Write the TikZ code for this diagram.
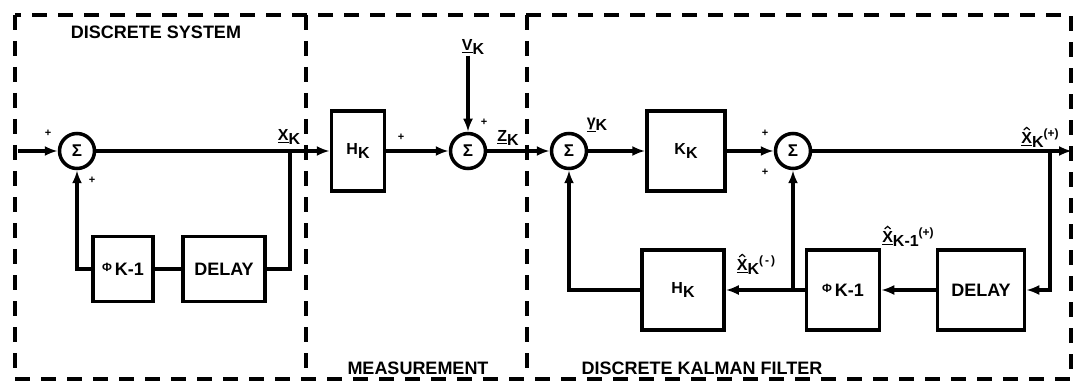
\documentclass[tikz,border=0pt]{standalone}
\usepackage{fontspec}
\setmainfont{Liberation Sans}
\usetikzlibrary{arrows.meta}
\newcommand{\lowerit}[1]{\raisebox{-0.45ex}{#1}}
\newcommand{\raiseit}[1]{\raisebox{0.7ex}{\fontsize{12}{12}\selectfont #1}}
\newcommand{\hatmark}{\tikz\draw[line width=1.2pt,line cap=round] (0pt,0pt) -- (2.8pt,2.4pt) -- (5.6pt,0pt);}
\newcommand{\xvec}{\underline{X}}
\newcommand{\xest}{\underline{\ooalign{X\cr\hidewidth\raisebox{13pt}{\hatmark}\hidewidth\cr}}}
\begin{document}
\begin{tikzpicture}[x=1pt,y=-1pt,
	font=\bfseries\fontsize{18}{20}\selectfont,
	blk/.style={draw,line width=3.5pt,inner sep=0pt},
	sum/.style={circle,draw,line width=3.5pt,minimum size=35pt,inner sep=0pt,font=\bfseries\fontsize{17}{17}\selectfont},
	lbl/.style={font=\bfseries\fontsize{16}{18}\selectfont,inner sep=1pt},
	pl/.style={font=\bfseries\fontsize{11}{11}\selectfont,inner sep=1pt},
	sig/.style={line width=3.5pt},
	arr/.style={line width=3.5pt,-{Latex[length=13pt,width=10pt]}},
	frame/.style={line width=3.5pt,dash pattern=on 15pt off 11pt}]
	\useasboundingbox (0,0) rectangle (1074,385);
	% dashed frames
	\draw[frame] (15,15) rectangle (1071,379);
	\draw[frame] (306,15) -- (306,379);
	\draw[frame] (527,15) -- (527,379);
	\node (tsys) at (156,32) {DISCRETE SYSTEM};
	\node (tmeas) at (418,368) {MEASUREMENT};
	\node (tkal) at (702,368) {DISCRETE KALMAN FILTER};
	% discrete system
	\node[sum] (s1) at (77,151) {Σ};
	\node[blk,minimum width=60pt,minimum height=65pt] (phi1) at (123,269) {{\fontsize{12}{12}\selectfont Φ}\,\lowerit{K-1}};
	\node[blk,minimum width=82pt,minimum height=65pt] (d1) at (224,269) {DELAY};
	\coordinate (in) at (18,151);
	\coordinate (j1) at (290,151);
	% measurement
	\node[blk,lbl,minimum width=53pt,minimum height=80pt] (hk1) at (358,151) {H\lowerit{K}};
	\node[sum] (s2) at (468,151) {Σ};
	\node[lbl] (vk) at (473,47) {\underline{V}\lowerit{K}};
	% kalman filter
	\node[sum] (s3) at (569,151) {Σ};
	\node[blk,lbl,minimum width=78pt,minimum height=80pt] (kk) at (686,151) {K\lowerit{K}};
	\node[sum] (s4) at (793,151) {Σ};
	\node[blk,lbl,minimum width=82pt,minimum height=80pt] (hk2) at (683,290) {H\lowerit{K}};
	\node[blk,minimum width=73pt,minimum height=80pt] (phi2) at (843,290) {{\fontsize{12}{12}\selectfont Φ}\,\lowerit{K-1}};
	\node[blk,minimum width=87pt,minimum height=80pt] (d2) at (981,290) {DELAY};
	\coordinate (out) at (1072,151);
	\coordinate (j3) at (1050,151);
	\coordinate (j4) at (793,290);
	% signal labels
	\node[lbl] (lxk) at (289,137) {\xvec\lowerit{K}};
	\node[lbl] (lzk) at (508,138) {\underline{Z}\lowerit{K}};
	\node[lbl] (lgk) at (597,125) {\underline{γ}\lowerit{K}};
	\node[lbl] (lxp) at (1040,138) {\xest\lowerit{K}\raiseit{(+)}};
	\node[lbl] (lxm1) at (908,237) {\xest\lowerit{K-1}\raiseit{(+)}};
	\node[lbl] (lxm) at (756,265) {\xest\lowerit{K}\raiseit{(\,-\,)}};
	% signs
	\node[pl] (p1) at (48,133) {+};
	\node[pl] (p2) at (92,180) {+};
	\node[pl] (p3) at (401,137) {+};
	\node[pl] (p4) at (484,122) {+};
	\node[pl] (p5) at (765,133) {+};
	\node[pl] (p6) at (765,172) {+};
	% connections
	\draw[arr] (in) -- (s1);
	\draw[arr] (s1) -- (hk1);
	\draw[sig] (j1) |- (d1.east);
	\draw[sig] (d1) -- (phi1);
	\draw[arr] (phi1.west) -| (s1);
	\draw[arr] (hk1) -- (s2);
	\draw[arr] (s2 |- vk.south) -- (s2);
	\draw[arr] (s2) -- (s3);
	\draw[arr] (s3) -- (kk);
	\draw[arr] (hk2.west) -| (s3);
	\draw[arr] (kk) -- (s4);
	\draw[arr] (s4) -- (out);
	\draw[arr] (j3) |- (d2.east);
	\draw[arr] (d2) -- (phi2);
	\draw[arr] (phi2) -- (hk2);
	\draw[arr] (j4) -- (s4);
\end{tikzpicture}
\end{document}
